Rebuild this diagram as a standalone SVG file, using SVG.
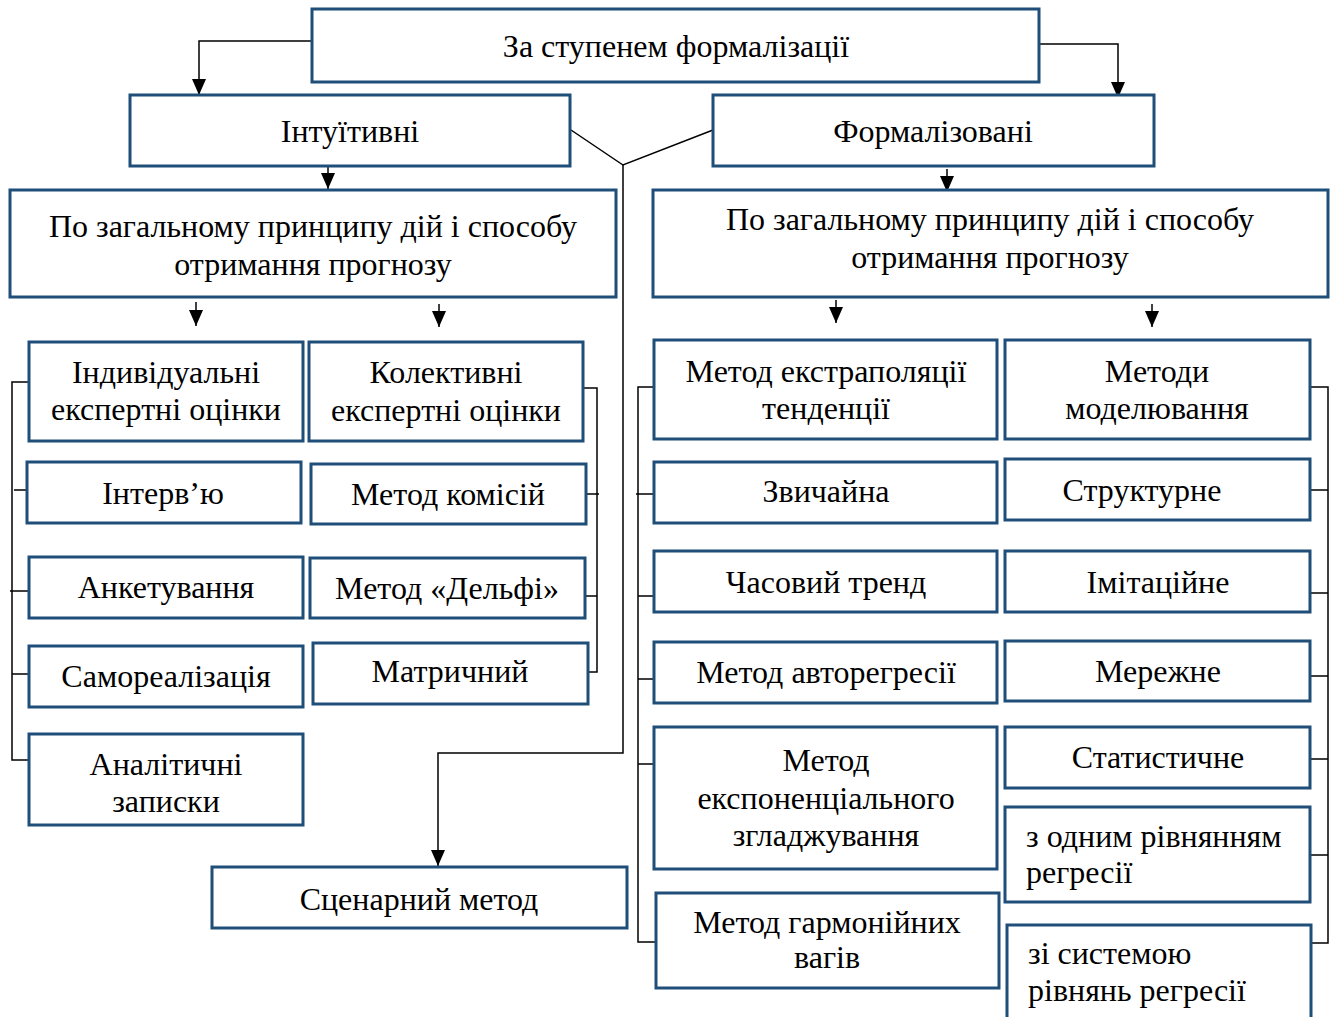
<svg xmlns="http://www.w3.org/2000/svg" width="1331" height="1017" viewBox="0 0 1331 1017">
<style>
  .box { fill: #ffffff; stroke: #1f4e79; stroke-width: 3; }
  .t { font-family: "Liberation Serif", "Times New Roman", serif; font-size: 32px; fill: #000000; text-anchor: middle; }
  .tl { font-family: "Liberation Serif", "Times New Roman", serif; font-size: 32px; fill: #000000; text-anchor: start; }
  .ln { fill: none; stroke: #000000; stroke-width: 1.5; }
  .arr { fill: none; stroke: #000000; stroke-width: 1.5; marker-end: url(#ah); }
</style>
<defs>
  <marker id="ah" markerWidth="16" markerHeight="14" refX="16" refY="7" orient="auto" markerUnits="userSpaceOnUse" viewBox="0 0 16 14">
    <path d="M0,0 L16,7 L0,14 Z" fill="#000000"/>
  </marker>
</defs>
<rect width="1331" height="1017" fill="#ffffff"/>

<g id="connectors">
  <path class="arr" d="M312,41 H199 V95"/>
  <path class="arr" d="M1040,44 H1118 V98"/>
  <path class="arr" d="M328,166 V189"/>
  <path class="arr" d="M947,169 V192"/>
  <path class="ln" d="M571,130 L623,165 L713,130"/>
  <path class="arr" d="M623,165 V753 H438 V866"/>
  <path class="arr" d="M196,302 V326"/>
  <path class="arr" d="M439,304 V327"/>
  <path class="arr" d="M836,300 V323"/>
  <path class="arr" d="M1152,304 V327"/>
  <!-- left panel left bracket -->
  <path class="ln" d="M29,382 H12 V760 H32 M14,490 H27 M10,591 H29 M12,674 H32"/>
  <!-- left panel right bracket -->
  <path class="ln" d="M583,388 H597 V672 H585 M585,494 H599 M584,596 H597"/>
  <!-- right panel left bracket -->
  <path class="ln" d="M654,387 H638 V942 H661 M636,494 H654 M638,596 H654 M638,679 H656 M638,764 H654"/>
  <!-- right panel right bracket -->
  <path class="ln" d="M1310,387 H1328 V943 H1312 M1310,490 H1328 M1310,593 H1328 M1310,676 H1328 M1310,759 H1328 M1310,855 H1328"/>
</g>

<g id="n-top"><rect class="box" x="312" y="9" width="727" height="73"/><text class="t" x="676" y="57">За ступенем формалізації</text></g>
<g id="n-intuit"><rect class="box" x="130" y="95" width="440" height="71"/><text class="t" x="350" y="142">Інтуїтивні</text></g>
<g id="n-formal"><rect class="box" x="713" y="95" width="441" height="71"/><text class="t" x="933" y="142">Формалізовані</text></g>
<g id="n-left-principle"><rect class="box" x="10" y="190" width="606" height="107"/><text class="t" x="313" y="237">По загальному принципу дій і способу</text><text class="t" x="313" y="275">отримання прогнозу</text></g>
<g id="n-right-principle"><rect class="box" x="653" y="190" width="675" height="107"/><text class="t" x="990" y="230">По загальному принципу дій і способу</text><text class="t" x="990" y="268">отримання прогнозу</text></g>

<g id="n-individ"><rect class="box" x="29" y="342" width="274" height="99"/><text class="t" x="166" y="383">Індивідуальні</text><text class="t" x="166" y="420">експертні оцінки</text></g>
<g id="n-collect"><rect class="box" x="309" y="342" width="274" height="99"/><text class="t" x="446" y="383">Колективні</text><text class="t" x="446" y="421">експертні оцінки</text></g>
<g id="n-interview"><rect class="box" x="27" y="462" width="274" height="61"/><text class="t" x="163" y="504">Інтерв’ю</text></g>
<g id="n-commission"><rect class="box" x="311" y="464" width="275" height="60"/><text class="t" x="448" y="505">Метод комісій</text></g>
<g id="n-survey"><rect class="box" x="29" y="557" width="274" height="61"/><text class="t" x="166" y="598">Анкетування</text></g>
<g id="n-delphi"><rect class="box" x="310" y="558" width="275" height="60"/><text class="t" x="447" y="599">Метод «Дельфі»</text></g>
<g id="n-selfreal"><rect class="box" x="29" y="646" width="274" height="61"/><text class="t" x="166" y="687">Самореалізація</text></g>
<g id="n-matrix"><rect class="box" x="313" y="643" width="275" height="61"/><text class="t" x="450" y="682">Матричний</text></g>
<g id="n-analytic"><rect class="box" x="29" y="734" width="274" height="91"/><text class="t" x="166" y="775">Аналітичні</text><text class="t" x="166" y="812">записки</text></g>
<g id="n-scenario"><rect class="box" x="212" y="867" width="415" height="61"/><text class="t" x="419" y="910">Сценарний метод</text></g>

<g id="n-extrap"><rect class="box" x="654" y="340" width="343" height="99"/><text class="t" x="826" y="382">Метод екстраполяції</text><text class="t" x="826" y="419">тенденції</text></g>
<g id="n-model"><rect class="box" x="1005" y="340" width="305" height="99"/><text class="t" x="1157" y="382">Методи</text><text class="t" x="1157" y="419">моделювання</text></g>
<g id="n-ordinary"><rect class="box" x="654" y="462" width="343" height="61"/><text class="t" x="826" y="502">Звичайна</text></g>
<g id="n-struct"><rect class="box" x="1005" y="459" width="305" height="61"/><text class="t" x="1142" y="501">Структурне</text></g>
<g id="n-trend"><rect class="box" x="654" y="551" width="343" height="61"/><text class="t" x="826" y="593">Часовий тренд</text></g>
<g id="n-imit"><rect class="box" x="1005" y="551" width="305" height="61"/><text class="t" x="1158" y="593">Імітаційне</text></g>
<g id="n-autoreg"><rect class="box" x="654" y="642" width="343" height="61"/><text class="t" x="826" y="683">Метод авторегресії</text></g>
<g id="n-network"><rect class="box" x="1005" y="641" width="305" height="60"/><text class="t" x="1158" y="682">Мережне</text></g>
<g id="n-expsmooth"><rect class="box" x="654" y="727" width="343" height="142"/><text class="t" x="826" y="771">Метод</text><text class="t" x="826" y="809">експоненціального</text><text class="t" x="826" y="846">згладжування</text></g>
<g id="n-stat"><rect class="box" x="1005" y="727" width="305" height="61"/><text class="t" x="1158" y="768">Статистичне</text></g>
<g id="n-oneeq"><rect class="box" x="1005" y="807" width="305" height="95"/><text class="tl" x="1026" y="847">з одним рівнянням</text><text class="tl" x="1026" y="883">регресії</text></g>
<g id="n-harmonic"><rect class="box" x="656" y="893" width="343" height="95"/><text class="t" x="827" y="933">Метод гармонійних</text><text class="t" x="827" y="968">вагів</text></g>
<g id="n-system"><rect class="box" x="1007" y="925" width="304" height="110"/><text class="tl" x="1028" y="964">зі системою</text><text class="tl" x="1028" y="1001">рівнянь регресії</text></g>
</svg>
